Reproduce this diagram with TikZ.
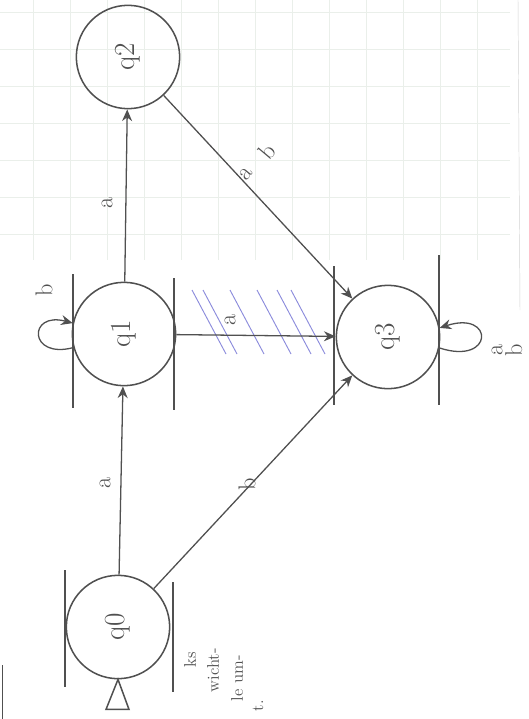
\documentclass[tikz,border=0pt]{standalone}
\usepackage{xcolor}
\usepackage{tikz}
\usetikzlibrary{arrows.meta}

\definecolor{ink}{RGB}{80,80,80}
\definecolor{hatchblue}{RGB}{140,140,220}
\definecolor{paper}{RGB}{234,239,234}

\begin{document}
\begin{tikzpicture}[
  x=0.03cm, y=-0.03cm,
  circ/.style={draw=ink, circle, line width=1.3pt, minimum size=3.1cm, inner sep=0pt,
               font=\Huge, text=ink},
  bar/.style={draw=ink, line width=1.3pt},
  arr/.style={-{Stealth[length=3.5mm, width=3mm]}, line width=1.1pt, ink},
  lab/.style={font=\huge, text=ink, rotate=90, inner sep=1pt, align=center},
  note/.style={font=\Large, text=ink, rotate=90, anchor=east, inner sep=0pt}
]
\useasboundingbox (0,0) rectangle (529,719);

\foreach \x in {33,70,107,144,181,218,255,292,329,366,403,440,477}
  \draw[paper] (\x,0) -- (\x,260);
\foreach \y in {12,49,86,123,160,197,234}
  \draw[paper] (0,\y) -- (510,\y);
\draw[gray!35] (518,0) -- (520,310);

\node[circ] (q0) at (118,627) {\rotatebox{90}{q0}};
\node[circ] (q1) at (124,334) {\rotatebox{90}{q1}};
\node[circ] (q2) at (128,57)  {\rotatebox{90}{q2}};
\node[circ] (q3) at (388,337) {\rotatebox{90}{q3}};

\draw[bar] (65,570) -- (65,687);
\draw[bar] (173,582) -- (173,692);
\draw[bar] (73,274) -- (73,408);
\draw[bar] (174,278) -- (174,410);
\draw[bar] (334,266) -- (334,405);
\draw[bar] (439,255) -- (439,405);

\draw[ink, line width=1.3pt] (q0.south) -- ++(-12,30) -- ++(23,0) -- cycle;

\foreach \x in {192,203,230,257,277,291}
  \draw[hatchblue, thick] (\x,290) -- ++(34,64);

\draw[arr] (q0) -- (q1);
\draw[arr] (q1) -- (q2);
\draw[arr] (q1) -- (q3);
\draw[arr] (q2) -- (q3);
\draw[arr] (q0) -- (q3);
\draw[arr] (q1.195) .. controls +(-45,12) and +(-45,-12) .. (q1.168);
\draw[arr] (q3.-12) .. controls +(55,18) and +(55,-18) .. (q3.10);

\node[lab] (la01) at (105,483) {a};
\node[lab] (la12) at (107,203) {a};
\node[lab] (la13) at (230,320) {a};
\node[lab] (lb03) at (247,484) {b};
\node[lab, rotate=-40] (la23) at (246,174) {a};
\node[lab, rotate=-40] (lb23) at (267,151) {b};
\node[lab] (lb11) at (44,290) {b};
\node[lab] (lab33) at (507,350) {a\\[-8pt]b};

\node[note] (n1) at (190,652) {ks};
\node[note] (n2) at (213,648) {wicht-};
\node[note] (n3) at (237,655) {le um-};
\node[note] (n4) at (258,700) {t.};

\draw[ink, thick] (2,665) -- (2,719);

\end{tikzpicture}
\end{document}
